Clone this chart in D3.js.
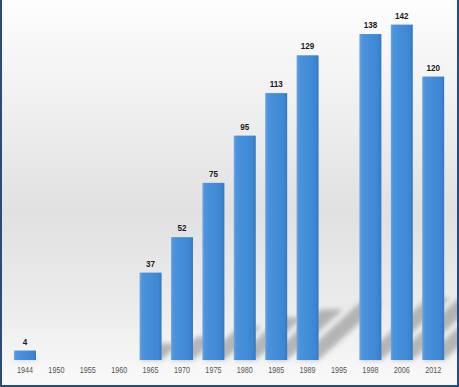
<!DOCTYPE html>
<html>
<head>
<meta charset="utf-8">
<script src="https://cdn.jsdelivr.net/npm/d3@7"></script>
<style>
  body { margin: 0; background: #fff; }
  svg { display: block; }
</style>
</head>
<body>
<div id="chart"></div>
<script>
var width = 459,
    height = 387;

var years = ["1944", "1950", "1955", "1960", "1965", "1970", "1975", "1980", "1985", "1989", "1995", "1998", "2006", "2012"];
var counts = [4, 0, 0, 0, 37, 52, 75, 95, 113, 129, 0, 138, 142, 120];

var data = years.map(function (y, i) { return { year: y, value: counts[i] }; });

var svg = d3.select("#chart")
    .append("svg")
    .attr("width", width)
    .attr("height", height);

var defs = svg.append("defs");

// background gradient, white at the top, grey in the middle
var bg = defs.append("linearGradient")
    .attr("id", "bg")
    .attr("x1", 0).attr("y1", 0).attr("x2", 0).attr("y2", 1);
bg.append("stop").attr("offset", "0%").attr("stop-color", "#fdfdfd");
bg.append("stop").attr("offset", "25%").attr("stop-color", "#f1f1f1");
bg.append("stop").attr("offset", "55%").attr("stop-color", "#e1e1e1");
bg.append("stop").attr("offset", "80%").attr("stop-color", "#ececec");
bg.append("stop").attr("offset", "100%").attr("stop-color", "#fafafa");

var barGrad = defs.append("linearGradient")
    .attr("id", "barGrad")
    .attr("x1", 0).attr("y1", 0).attr("x2", 1).attr("y2", 0);
barGrad.append("stop").attr("offset", "0%").attr("stop-color", "#6aa6e3");
barGrad.append("stop").attr("offset", "12%").attr("stop-color", "#4c93dc");
barGrad.append("stop").attr("offset", "85%").attr("stop-color", "#3c86d3");
barGrad.append("stop").attr("offset", "100%").attr("stop-color", "#3479c2");

defs.append("filter")
    .attr("id", "blur")
    .attr("x", "-50%").attr("y", "-50%").attr("width", "200%").attr("height", "200%")
    .append("feGaussianBlur")
    .attr("stdDeviation", 2.5);

svg.append("rect")
    .attr("width", width)
    .attr("height", height)
    .attr("fill", "url(#bg)");

// scales
var x = d3.scaleBand()
    .domain(years)
    .range([9.3, 448.9])
    .paddingInner(0.3)
    .paddingOuter(0.15);

var y = d3.scaleLinear()
    .domain([0, 150])
    .range([360, 5.7]);

var font = "'Liberation Sans', Arial, sans-serif";

// diagonal shadows behind the bars
svg.append("g")
    .attr("filter", "url(#blur)")
    .selectAll("path")
    .data(data.filter(function (d) { return d.value > 0; }))
    .enter()
    .append("path")
    .attr("fill", "#8c8c8c")
    .attr("opacity", 0.6)
    .attr("d", function (d) {
        var x0 = x(d.year), x1 = x0 + x.bandwidth(), b = y(0);
        var h = y(0) - y(d.value);
        var dx = h * 0.21, dy = h * 0.19;
        return "M" + x0 + "," + b + "L" + x1 + "," + b +
            "L" + (x1 + dx) + "," + (b - dy) + "L" + (x0 + dx) + "," + (b - dy) + "Z";
    });

// bars
svg.append("g")
    .selectAll("rect")
    .data(data.filter(function (d) { return d.value > 0; }))
    .enter()
    .append("rect")
    .attr("x", function (d) { return x(d.year); })
    .attr("y", function (d) { return y(d.value); })
    .attr("width", x.bandwidth())
    .attr("height", function (d) { return y(0) - y(d.value); })
    .attr("fill", "url(#barGrad)");

// value labels
svg.append("g")
    .selectAll("text")
    .data(data.filter(function (d) { return d.value > 0; }))
    .enter()
    .append("text")
    .attr("transform", function (d) {
        return "translate(" + (x(d.year) + x.bandwidth() / 2) + "," + (y(d.value) - 6) + ") scale(0.85,1)";
    })
    .attr("text-anchor", "middle")
    .style("font-family", font)
    .style("font-weight", "bold")
    .style("font-size", "9.5px")
    .style("fill", "#1a1a1a")
    .text(function (d) { return d.value; });

// x axis labels
var xAxis = d3.axisBottom(x).tickSize(0).tickPadding(0);
var ax = svg.append("g")
    .attr("transform", "translate(0,368)")
    .call(xAxis);
ax.select(".domain").remove();
ax.selectAll("text")
    .attr("dy", "0.6em")
    .attr("transform", "scale(0.85,1)")
    .style("font-family", font)
    .style("font-size", "8.5px")
    .style("fill", "#555");

// frame
svg.append("rect").attr("x", 0).attr("y", 0).attr("width", 2).attr("height", height).attr("fill", "#2d4b78");
svg.append("rect").attr("x", width - 2).attr("y", 0).attr("width", 2).attr("height", height).attr("fill", "#2d4b78");
svg.append("rect").attr("x", 0).attr("y", height - 2).attr("width", width).attr("height", 2).attr("fill", "#2d4b78");
</script>
</body>
</html>
